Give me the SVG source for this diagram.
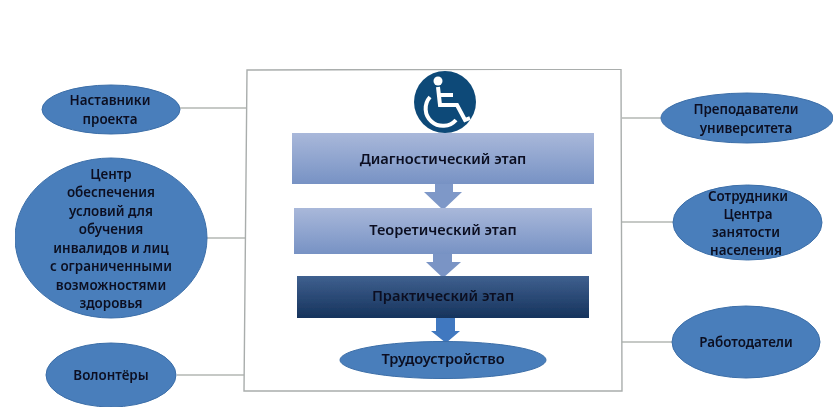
<svg xmlns="http://www.w3.org/2000/svg" width="836" height="420" viewBox="0 0 836 420">
<style>
.n{fill:#4a7ebb;stroke:#3b6ea8;stroke-width:1}
.c{fill:none;stroke:#b4b8b4;stroke-width:1.4}
.t{font-family:"Noto Sans","Liberation Sans",sans-serif;font-size:13.4px;font-weight:600;fill:#0a1020;text-anchor:middle}
.s{font-size:14.6px}
.w{fill:none;stroke:#fff;stroke-width:4}
</style>
<defs>
<linearGradient id="g1" x1="0" y1="0" x2="0" y2="1"><stop offset="0" stop-color="#a9b8da"/><stop offset="1" stop-color="#7792c4"/></linearGradient>
<linearGradient id="g2" x1="0" y1="0" x2="0" y2="1"><stop offset="0" stop-color="#3f608f"/><stop offset="1" stop-color="#16335c"/></linearGradient>
<filter id="soft" x="0" y="0" width="100%" height="100%"><feGaussianBlur stdDeviation="0.45"/></filter>
</defs>
<rect width="836" height="420" fill="#fff"/>
<g filter="url(#soft)">
<g id="connectors">
<path class="c" d="M180 108H247M207 238H246M177 375H244M622 118H661M622 222H673M622 342H672"/>
</g>
<g id="frame"><path d="M247 70L621 69L622 391L244 391Z" fill="#fff" stroke="#a9adac" stroke-width="1.4"/></g>
<g id="icon">
<circle cx="445" cy="102" r="31" fill="#0f4a78"/>
<circle cx="438" cy="81" r="4.5" fill="#fff"/>
<path class="w" d="M438 87L440 105H457L465 120L470 118M440 95H453"/>
<path class="w" d="M430 97A16 16 0 1 0 456 120"/>
</g>
<g id="arrow1"><path d="M435 183H453V192H462L443 210L424 192H435Z" fill="#7e98c8"/></g>
<g id="arrow2"><path d="M433 253H452V262H461L443 278L426 262H433Z" fill="#7a94c5"/></g>
<g id="arrow3"><path d="M436 317H455V331H460L446 343L431 331H436Z" fill="#3f78c0"/></g>
<g id="stage1"><rect x="292" y="133" width="302" height="51" fill="url(#g1)"/><text class="t s" x="443" y="164">Диагностический этап</text></g>
<g id="stage2"><rect x="294" y="208" width="298" height="46" fill="url(#g1)"/><text class="t s" x="443" y="235">Теоретический этап</text></g>
<g id="stage3"><rect x="297" y="276" width="292" height="42" fill="url(#g2)"/><text class="t s" x="443" y="301">Практический этап</text></g>
<g id="job"><ellipse class="n" cx="443" cy="360" rx="103" ry="18.5"/><text class="t s" x="443" y="364">Трудоустройство</text></g>
<g id="mentors"><ellipse class="n" cx="111" cy="109.5" rx="69" ry="24.5"/><text class="t" x="110" y="105">Наставники</text><text class="t" x="110" y="124">проекта</text></g>
<g id="center"><ellipse class="n" cx="111" cy="238" rx="96" ry="80"/>
<text class="t" x="111" y="179">Центр</text><text class="t" x="111" y="197">обеспечения</text><text class="t" x="111" y="216">условий для</text><text class="t" x="111" y="234">обучения</text><text class="t" x="111" y="253">инвалидов и лиц</text><text class="t" x="111" y="271">с ограниченными</text><text class="t" x="111" y="290">возможностями</text><text class="t" x="111" y="308">здоровья</text></g>
<g id="volunteers"><ellipse class="n" cx="111" cy="375" rx="65" ry="32"/><text class="t" x="111" y="380">Волонтёры</text></g>
<g id="teachers"><ellipse class="n" cx="747" cy="118" rx="86" ry="25"/><text class="t" x="746" y="114">Преподаватели</text><text class="t" x="746" y="133">университета</text></g>
<g id="employment"><ellipse class="n" cx="747.5" cy="222.5" rx="74.5" ry="37.5"/><text class="t" x="748" y="201">Сотрудники</text><text class="t" x="748" y="219">Центра</text><text class="t" x="746" y="237">занятости</text><text class="t" x="746" y="255">населения</text></g>
<g id="employers"><ellipse class="n" cx="746" cy="342" rx="74" ry="36"/><text class="t" x="746" y="347">Работодатели</text></g>
</g>
</svg>
